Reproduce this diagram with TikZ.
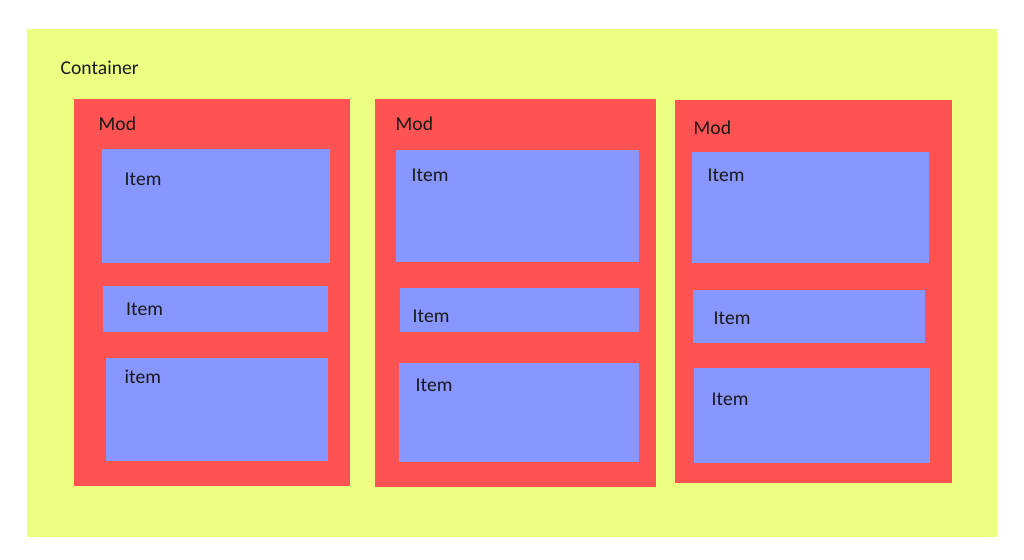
\documentclass[tikz,border=0pt]{standalone}
\usepackage{fontspec}
\setmainfont{Carlito}
\usepackage{tikz}
\usetikzlibrary{positioning}
\definecolor{contyellow}{RGB}{235,255,128}
\definecolor{modred}{RGB}{255,82,82}
\definecolor{itemblue}{RGB}{136,150,255}
\tikzset{font=\fontsize{19.6}{23}\selectfont}
\tikzset{
    container/.style={fill=contyellow, draw=none, anchor=north west, inner sep=0pt},
    module/.style={fill=modred, draw=none, anchor=north west, inner sep=0pt},
    itembox/.style={fill=itemblue, draw=none, anchor=north west, inner sep=0pt},
    tag/.style={anchor=base west, inner sep=0pt, text=black!90}
}

\begin{document}
\begin{tikzpicture}[x=1pt,y=-1pt]
    \useasboundingbox (0,0) rectangle (1024,559);
    \node[container, minimum width=970, minimum height=508] (container) at (27,29) {};
    \node[tag] (container_t) at (60.5,74.5) {Container};

    \node[module, minimum width=275.5, minimum height=387] (mod1) at (74,99) {};
    \node[tag] (mod1_t) at (98.5,131) {Mod};
    \node[itembox, minimum width=227.5, minimum height=114] (mod1_item1) at (102,149) {};
    \node[tag] (mod1_item1_t) at (124.5,185) {Item};
    \node[itembox, minimum width=225, minimum height=45.5] (mod1_item2) at (103,286) {};
    \node[tag] (mod1_item2_t) at (126,315) {Item};
    \node[itembox, minimum width=222, minimum height=103.5] (mod1_item3) at (106,357.5) {};
    \node[tag] (mod1_item3_t) at (124.5,383.5) {item};

    \node[module, minimum width=281, minimum height=388] (mod2) at (375,99) {};
    \node[tag] (mod2_t) at (395.5,130.5) {Mod};
    \node[itembox, minimum width=242.5, minimum height=111.5] (mod2_item1) at (396,150) {};
    \node[tag] (mod2_item1_t) at (411.5,181) {Item};
    \node[itembox, minimum width=239, minimum height=44] (mod2_item2) at (400,288) {};
    \node[tag] (mod2_item2_t) at (412.5,322) {Item};
    \node[itembox, minimum width=239.5, minimum height=99] (mod2_item3) at (399,363) {};
    \node[tag] (mod2_item3_t) at (415.5,391) {Item};

    \node[module, minimum width=277, minimum height=383] (mod3) at (675,100) {};
    \node[tag] (mod3_t) at (693.5,134) {Mod};
    \node[itembox, minimum width=237, minimum height=111] (mod3_item1) at (692,152) {};
    \node[tag] (mod3_item1_t) at (707.5,181) {Item};
    \node[itembox, minimum width=232, minimum height=53] (mod3_item2) at (693,290) {};
    \node[tag] (mod3_item2_t) at (713.5,324) {Item};
    \node[itembox, minimum width=235.5, minimum height=95] (mod3_item3) at (694,368) {};
    \node[tag] (mod3_item3_t) at (711.5,405) {Item};
\end{tikzpicture}
\end{document}
